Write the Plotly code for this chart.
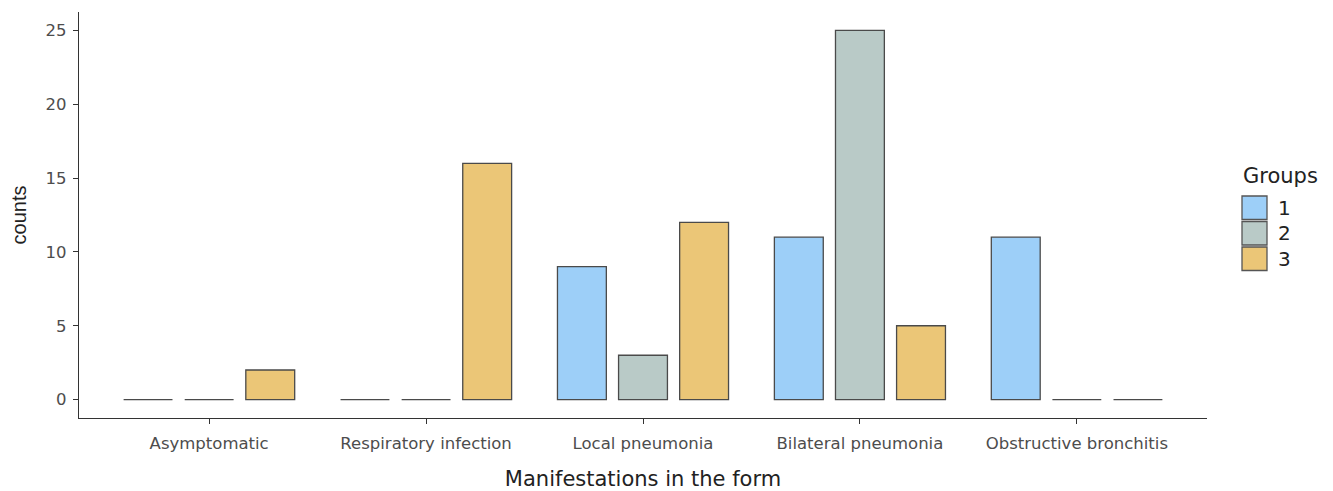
import plotly.graph_objects as go

categories = ["Asymptomatic", "Respiratory infection", "Local pneumonia",
              "Bilateral pneumonia", "Obstructive bronchitis"]
group_names = ["1", "2", "3"]
group1 = [0, 0, 9, 11, 11]
group2 = [0, 0, 3, 25, 0]
group3 = [2, 16, 12, 5, 0]
colors = ["#9DCFF8", "#B9CAC7", "#EBC677"]
legend_title = "Groups"

W, H = 1325, 483
L, R, T, B = 71, 126, 4, 73
pw, ph = W - L - R, H - T - B

fig = go.Figure()
for name, vals, col in zip(group_names, [group1, group2, group3], colors):
    fig.add_trace(go.Bar(
        x=categories, y=vals, name=name, showlegend=False,
        marker=dict(color=col, line=dict(color="#4a4a4a", width=1.3)),
    ))

# manual legend (large keys as in the reference)
def px_to_paper_x(px):
    return (px - L) / pw

def px_to_paper_y(py):
    return (H - B - py) / ph

key_x0, key_x1 = 1234, 1259
row_h = 25.5
row_top0 = 187
for i, (name, col) in enumerate(zip(group_names, colors)):
    y0 = row_top0 + i * row_h
    fig.add_shape(type="rect", xref="paper", yref="paper",
                  x0=px_to_paper_x(key_x0), x1=px_to_paper_x(key_x1),
                  y0=px_to_paper_y(y0 + row_h - 1), y1=px_to_paper_y(y0 + 1),
                  fillcolor=col, line=dict(color="#555", width=1.3))
    fig.add_annotation(xref="paper", yref="paper",
                       x=px_to_paper_x(key_x1 + 9), y=px_to_paper_y(y0 + row_h / 2),
                       text=name, showarrow=False, xanchor="left", yanchor="middle",
                       font=dict(family="DejaVu Sans", size=20, color="#222"))
fig.add_annotation(xref="paper", yref="paper",
                   x=px_to_paper_x(1233), y=px_to_paper_y(168),
                   text=legend_title, showarrow=False, xanchor="left", yanchor="middle",
                   font=dict(family="DejaVu Sans", size=21, color="#222"))

fig.update_layout(
    width=W, height=H,
    margin=dict(l=L, r=R, t=T, b=B, autoexpand=False),
    paper_bgcolor="white", plot_bgcolor="white",
    barmode="group", bargap=0.155, bargroupgap=0.2,
    font=dict(family="DejaVu Sans, sans-serif", color="#222"),
    showlegend=False,
    xaxis=dict(
        title=dict(text="Manifestations in the form",
                   font=dict(family="DejaVu Sans", size=21, color="#222"), standoff=22),
        showline=True, linecolor="#333", linewidth=1.2,
        ticks="outside", ticklen=5, tickcolor="#333", ticklabelstandoff=5,
        tickfont=dict(family="DejaVu Sans", size=16.5, color="#4d4d4d"),
        showgrid=False, range=[-0.6, 4.6], automargin=False,
    ),
    yaxis=dict(
        title=dict(text="counts", font=dict(family="Liberation Sans", size=20, color="#222"),
                   standoff=14),
        showline=True, linecolor="#333", linewidth=1.2,
        ticks="outside", ticklen=5, tickcolor="#333", ticklabelstandoff=3,
        tickfont=dict(family="DejaVu Sans", size=16.5, color="#4d4d4d"),
        showgrid=False, zeroline=False, automargin=False,
        range=[-1.25, 26.25], tickvals=[0, 5, 10, 15, 20, 25],
    ),
)

fig.write_html("out.html")
